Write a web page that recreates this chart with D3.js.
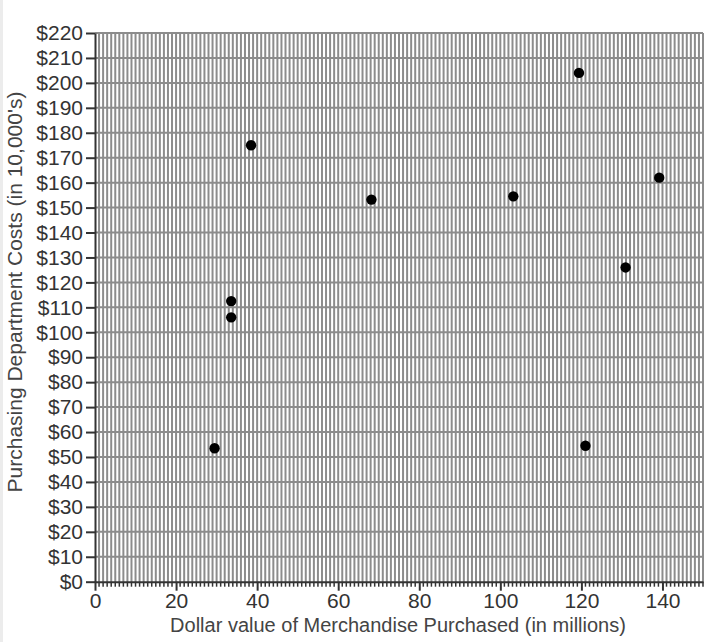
<!DOCTYPE html>
<html>
<head>
<style>
body {margin: 0; font-family: "Liberation Sans", Arial, sans-serif; background: #fff;}
</style>
<script src="https://cdnjs.cloudflare.com/ajax/libs/d3/7.8.5/d3.min.js"></script>
</head>
<body>
<div id="chart-container"></div>
<script>
    // merchandise purchased (millions) and purchasing dept costs (10,000's)
    const merchandise = [38.5, 119.4, 139.2, 68.2, 103.2, 130.9, 33.6, 33.6, 29.5, 121];
    const costs = [175, 204, 162, 153.2, 154.5, 126, 112.5, 106, 53.5, 54.5];
    const xTicks = [0, 20, 40, 60, 80, 100, 120, 140];
    const yTicks = d3.range(0, 230, 10);

    const containerWidth = 728;
    const containerHeight = 642;
    const margin = { top: 33, right: 25, bottom: 60, left: 95 };
    const width = 703 - margin.left;
    const height = 581.7 - margin.top;

    const svg = d3.select("#chart-container")
        .append("svg")
        .attr("width", containerWidth)
        .attr("height", containerHeight);

    // light strip at the left edge
    svg.append("rect")
        .attr("x", 0).attr("y", 0)
        .attr("width", 3).attr("height", containerHeight)
        .attr("fill", "#ececec");

    const g = svg.append("g")
        .attr("transform", `translate(${margin.left},${margin.top})`);

    const x = d3.scaleLinear().domain([0, 150]).range([0, width]);
    const y = d3.scaleLinear().domain([0, 220]).range([height, 0]);

    // vertical grid, one line per unit
    g.append("g")
        .selectAll("line")
        .data(d3.range(1, 151))
        .join("line")
            .attr("x1", d => x(d)).attr("x2", d => x(d))
            .attr("y1", 0).attr("y2", height)
            .attr("stroke", "#8c8c8c")
            .attr("stroke-width", 2);

    // horizontal grid every 10
    g.append("g")
        .selectAll("line")
        .data(yTicks.filter(d => d > 0))
        .join("line")
            .attr("x1", 0).attr("x2", width)
            .attr("y1", d => y(d)).attr("y2", d => y(d))
            .attr("stroke", "#8c8c8c")
            .attr("stroke-width", 2);

    // minor ticks on x axis
    g.append("g")
        .selectAll("line")
        .data(d3.range(1, 151).filter(d => d % 20 !== 0))
        .join("line")
            .attr("x1", d => x(d)).attr("x2", d => x(d))
            .attr("y1", height).attr("y2", height + 5)
            .attr("stroke", "#333")
            .attr("stroke-width", 1.5);

    const xAxis = g.append("g")
        .attr("transform", `translate(0,${height})`)
        .call(d3.axisBottom(x).tickValues(xTicks).tickSize(9).tickPadding(2).tickSizeOuter(0));

    const yAxis = g.append("g")
        .call(d3.axisLeft(y).tickValues(yTicks).tickFormat(d => "$" + d).tickSize(9).tickPadding(3).tickSizeOuter(0));

    [xAxis, yAxis].forEach(a => {
        a.select(".domain").attr("stroke", "#333").attr("stroke-width", 2);
        a.selectAll(".tick line").attr("stroke", "#333").attr("stroke-width", 2);
        a.selectAll(".tick text")
            .attr("fill", "#333")
            .style("font-size", "21px")
            .style("font-family", "'Liberation Sans', Arial, sans-serif");
    });

    // points
    g.append("g")
        .selectAll("circle")
        .data(merchandise.map((m, i) => ({ m: m, c: costs[i] })))
        .join("circle")
            .attr("cx", d => x(d.m))
            .attr("cy", d => y(d.c))
            .attr("r", 5.2)
            .attr("fill", "#000");

    svg.append("text")
        .attr("x", 398)
        .attr("y", 632)
        .attr("text-anchor", "middle")
        .attr("fill", "#444")
        .style("font-size", "20px")
        .text("Dollar value of Merchandise Purchased (in millions)");

    svg.append("text")
        .attr("transform", `translate(22,292) rotate(-90)`)
        .attr("text-anchor", "middle")
        .attr("fill", "#444")
        .style("font-size", "21px")
        .text("Purchasing Department Costs (in 10,000's)");
</script>
</body>
</html>
